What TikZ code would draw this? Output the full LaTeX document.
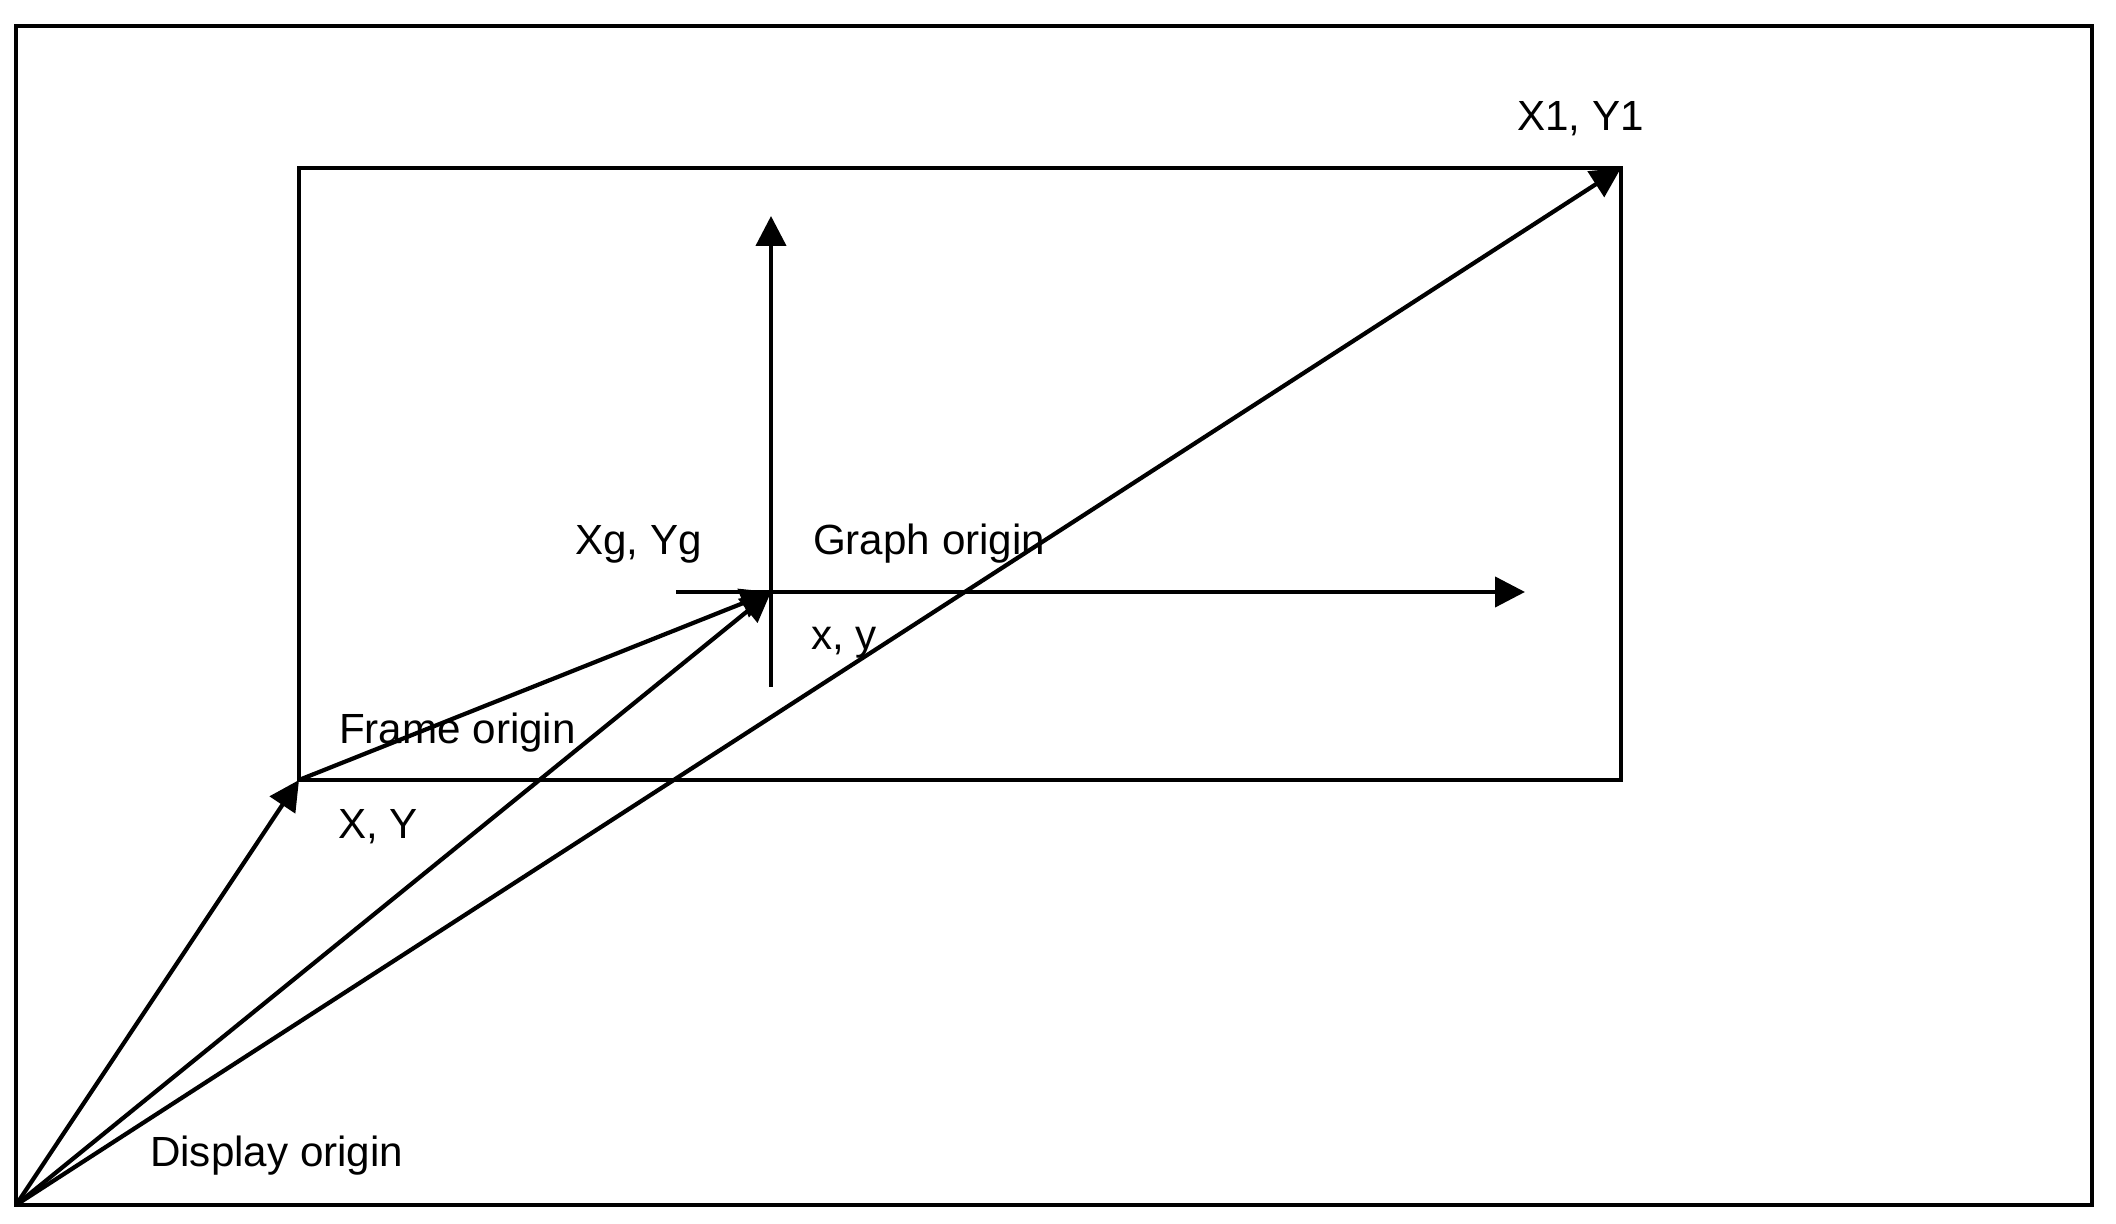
\documentclass[tikz,border=0pt]{standalone}
\usepackage{fontspec}
\setmainfont{Liberation Sans}
\usetikzlibrary{arrows.meta,positioning}

\begin{document}
\begin{tikzpicture}[
  line width=1.2pt,
  arr/.style={-{Triangle[length=0.3cm,width=0.3cm]}},
  lbl/.style={anchor=base west, inner sep=0pt, font=\fontsize{12}{14}\selectfont}
]
  \useasboundingbox (0,0) rectangle (21.16,12.24);

  % display and frame
  \coordinate (disp) at (0.16,0.19);
  \coordinate (dispTR) at (20.92,11.98);
  \coordinate (frame) at (2.99,4.44);
  \coordinate (corner) at (16.21,10.56);
  \coordinate (graph) at (7.71,6.32);
  \coordinate (ybot) at (7.71,5.37);
  \coordinate (ytop) at (7.71,10.08);
  \coordinate (xleft) at (6.76,6.32);
  \coordinate (xright) at (15.25,6.32);

  \draw (disp) rectangle (dispTR);
  \draw (frame) rectangle (corner);

  % graph axes
  \draw[arr] (ybot) -- (ytop);
  \draw[arr] (xleft) -- (xright);

  % origin vectors
  \draw[arr] (disp) -- (frame);
  \draw[arr] (frame) -- (graph);
  \draw[arr] (disp) -- (graph);
  \draw[arr] (disp) -- (corner);

  % labels
  \node[lbl] (displ) at (1.48,0.57) {Display origin};
  \node[lbl] (framel) at (3.37,4.80) {Frame origin};
  \node[lbl] (framexy) at (3.36,3.85) {X, Y};
  \node[lbl] (graphxy) at (5.73,6.69) {Xg, Yg};
  \node[lbl] (graphl) at (8.11,6.69) {Graph origin};
  \node[lbl] (localxy) at (8.09,5.74) {x, y};
  \node[lbl] (cornerl) at (15.15,10.93) {X1, Y1};
\end{tikzpicture}
\end{document}
